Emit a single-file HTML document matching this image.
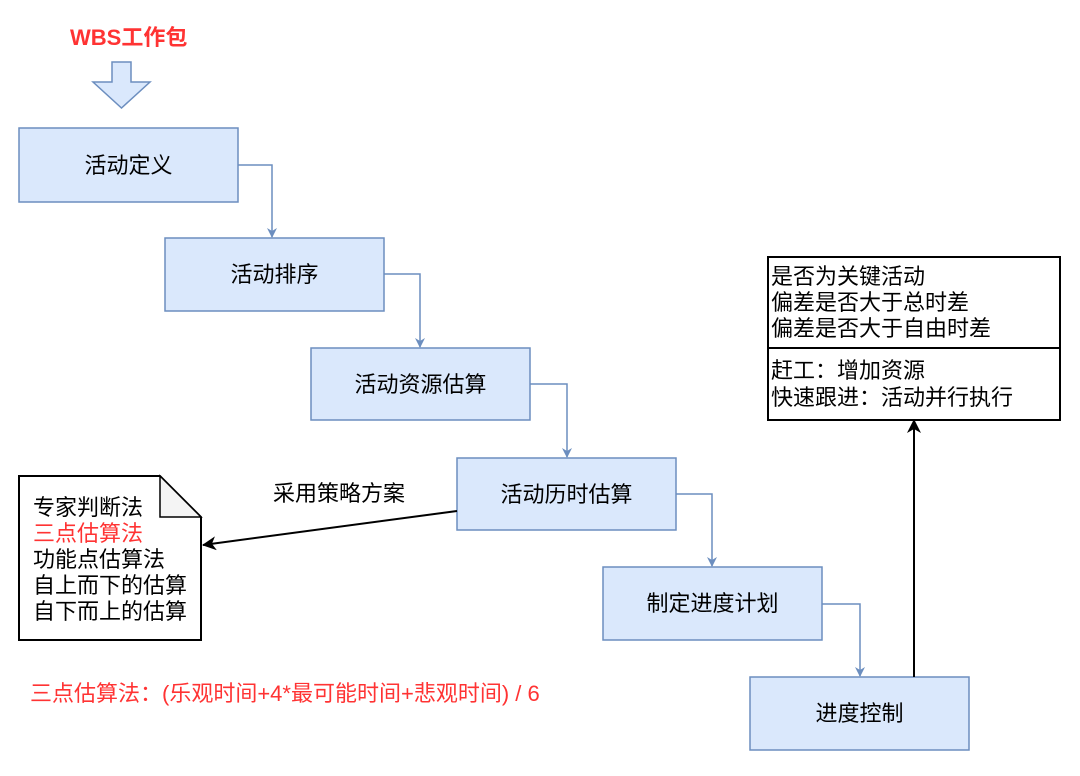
<!DOCTYPE html>
<html><head><meta charset="utf-8"><style>
body{margin:0;background:#fff}
svg text{font-family:"Liberation Sans","Noto Sans CJK SC",sans-serif}
</style></head><body>
<svg width="1080" height="771" xmlns="http://www.w3.org/2000/svg">
<defs>
<marker id="ab" markerWidth="10" markerHeight="10" refX="9" refY="5" orient="auto" markerUnits="userSpaceOnUse"><path d="M0,0 L10,5 L0,10 L3,5z" fill="#6c8ebf"/></marker>
<marker id="ak" markerWidth="14" markerHeight="14" refX="13" refY="7" orient="auto" markerUnits="userSpaceOnUse"><path d="M0,0 L14,7 L0,14 L4,7z" fill="#000"/></marker>
</defs>
<text x="70" y="45" font-size="22" font-weight="bold" fill="#ff3333">WBS工作包</text>
<path d="M112,62 H131 V82 H150 L121.5,108 L93,82 H112Z" fill="#dae8fc" stroke="#6c8ebf" stroke-width="1.5"/>
<g fill="#dae8fc" stroke="#6c8ebf" stroke-width="1.5">
<rect x="19" y="128" width="219" height="74"/>
<rect x="165" y="238" width="219" height="73"/>
<rect x="311" y="348" width="219" height="72"/>
<rect x="457" y="458" width="219" height="72"/>
<rect x="603" y="567" width="219" height="73"/>
<rect x="750" y="677" width="219" height="73"/>
</g>
<g font-size="22" fill="#000" text-anchor="middle">
<text x="128.5" y="173">活动定义</text>
<text x="274.5" y="282">活动排序</text>
<text x="420.5" y="392">活动资源估算</text>
<text x="566.5" y="502">活动历时估算</text>
<text x="712.5" y="611">制定进度计划</text>
<text x="859.5" y="721">进度控制</text>
</g>
<g fill="none" stroke="#6c8ebf" stroke-width="1.5" marker-end="url(#ab)">
<path d="M238,165 H272 V237"/>
<path d="M384,274 H420 V347"/>
<path d="M530,384 H567 V457"/>
<path d="M676,494 H712 V566"/>
<path d="M822,604 H860 V676"/>
</g>
<path d="M914,677 V420" stroke="#000" stroke-width="2" fill="none" marker-end="url(#ak)"/>
<path d="M457,511 L203,545" stroke="#000" stroke-width="2" fill="none" marker-end="url(#ak)"/>
<text x="273" y="501" font-size="22">采用策略方案</text>
<rect x="768" y="257" width="292" height="163" fill="#fff" stroke="#000" stroke-width="2"/>
<line x1="768" y1="348" x2="1060" y2="348" stroke="#000" stroke-width="2"/>
<g font-size="22" fill="#000">
<text x="771" y="284">是否为关键活动</text>
<text x="771" y="310">偏差是否大于总时差</text>
<text x="771" y="336">偏差是否大于自由时差</text>
<text x="771" y="378">赶工：增加资源</text>
<text x="771" y="405">快速跟进：活动并行执行</text>
</g>
<path d="M19,476 H160 L201,517 V640 H19Z" fill="#fff" stroke="#000" stroke-width="2"/>
<path d="M160,476 V517 H201Z" fill="#f4f4f4" stroke="#000" stroke-width="1.5"/>
<g font-size="22" fill="#000">
<text x="33" y="515">专家判断法</text>
<text x="33" y="541" fill="#ff3333">三点估算法</text>
<text x="33" y="567">功能点估算法</text>
<text x="33" y="593">自上而下的估算</text>
<text x="33" y="619">自下而上的估算</text>
</g>
<text x="30" y="701" font-size="22" fill="#ff3333">三点估算法：(乐观时间+4*最可能时间+悲观时间) / 6</text>
</svg>
</body></html>
